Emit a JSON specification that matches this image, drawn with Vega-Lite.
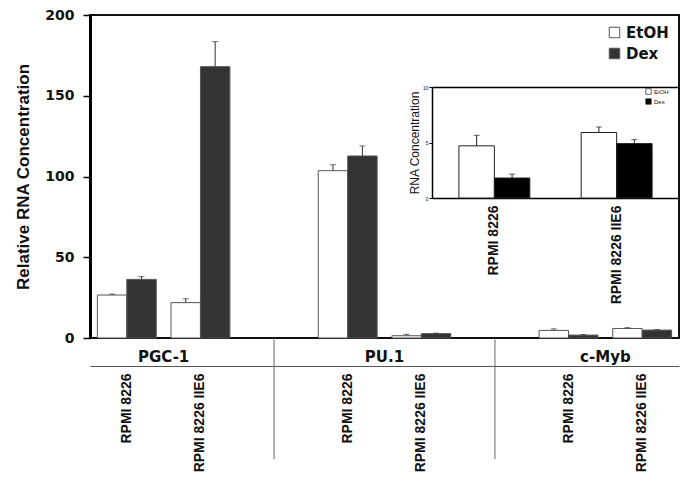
{
  "$schema": "https://vega.github.io/schema/vega-lite/v6.json",
  "width": 589,
  "height": 323,
  "autosize": {"type": "none"},
  "padding": {"left": 90, "top": 15, "right": 6, "bottom": 144},
  "background": "white",
  "config": {
    "font": "Liberation Sans",
    "view": {"stroke": "#111111", "strokeWidth": 2}
  },
  "data": {
    "values": [
      {"gene": "PGC-1", "cell": "RPMI 8226", "pair": "PGC-1|RPMI 8226", "treatment": "EtOH", "value": 26.6, "hi": 27.2},
      {"gene": "PGC-1", "cell": "RPMI 8226", "pair": "PGC-1|RPMI 8226", "treatment": "Dex", "value": 36.3, "hi": 38.0},
      {"gene": "PGC-1", "cell": "RPMI 8226 IIE6", "pair": "PGC-1|RPMI 8226 IIE6", "treatment": "EtOH", "value": 21.9, "hi": 24.3},
      {"gene": "PGC-1", "cell": "RPMI 8226 IIE6", "pair": "PGC-1|RPMI 8226 IIE6", "treatment": "Dex", "value": 168.0, "hi": 183.5},
      {"gene": "PU.1", "cell": "RPMI 8226", "pair": "PU.1|RPMI 8226", "treatment": "EtOH", "value": 103.6, "hi": 107.3},
      {"gene": "PU.1", "cell": "RPMI 8226", "pair": "PU.1|RPMI 8226", "treatment": "Dex", "value": 112.7, "hi": 118.9},
      {"gene": "PU.1", "cell": "RPMI 8226 IIE6", "pair": "PU.1|RPMI 8226 IIE6", "treatment": "EtOH", "value": 1.4, "hi": 2.3},
      {"gene": "PU.1", "cell": "RPMI 8226 IIE6", "pair": "PU.1|RPMI 8226 IIE6", "treatment": "Dex", "value": 2.7, "hi": 3.0},
      {"gene": "c-Myb", "cell": "RPMI 8226", "pair": "c-Myb|RPMI 8226", "treatment": "EtOH", "value": 4.7, "hi": 5.65},
      {"gene": "c-Myb", "cell": "RPMI 8226", "pair": "c-Myb|RPMI 8226", "treatment": "Dex", "value": 1.8, "hi": 2.15},
      {"gene": "c-Myb", "cell": "RPMI 8226 IIE6", "pair": "c-Myb|RPMI 8226 IIE6", "treatment": "EtOH", "value": 5.9, "hi": 6.4},
      {"gene": "c-Myb", "cell": "RPMI 8226 IIE6", "pair": "c-Myb|RPMI 8226 IIE6", "treatment": "Dex", "value": 4.9, "hi": 5.26}
    ]
  },
  "layer": [
    {
      "encoding": {
        "x": {
          "field": "pair", "type": "nominal",
          "scale": {
            "domain": ["PGC-1|RPMI 8226", "PGC-1|RPMI 8226 IIE6", "sep1", "PU.1|RPMI 8226", "PU.1|RPMI 8226 IIE6", "sep2", "c-Myb|RPMI 8226", "c-Myb|RPMI 8226 IIE6"],
            "paddingInner": 0.2, "paddingOuter": 0.1
          },
          "axis": {
            "orient": "bottom", "offset": 28, "title": null,
            "ticks": false, "domainColor": "#555555", "domainWidth": 1,
            "labelAngle": 270, "labelAlign": "right", "labelBaseline": "middle",
            "labelPadding": 7, "labelFont": "Liberation Sans", "labelFontWeight": "bold",
            "labelFontSize": 14, "labelColor": "#111111",
            "labelExpr": "indexof(datum.label, '|') > 0 ? split(datum.label, '|')[1] : ''"
          }
        },
        "y": {
          "type": "quantitative",
          "scale": {"domain": [0, 200], "nice": false},
          "axis": {
            "orient": "left", "values": [0, 50, 100, 150, 200], "grid": false,
            "title": "Relative RNA Concentration", "titleFont": "Liberation Sans",
            "titleFontSize": 17, "titleFontWeight": "bold", "titleColor": "#111111", "titlePadding": 12,
            "domainColor": "#000000", "domainWidth": 3,
            "tickColor": "#000000", "tickWidth": 1.5, "tickSize": 7,
            "labelFont": "DejaVu Sans", "labelFontWeight": "bold", "labelFontSize": 14,
            "labelColor": "#111111", "labelPadding": 9
          }
        }
      },
      "layer": [
        {
          "mark": {"type": "bar", "stroke": "#555555", "strokeWidth": 1},
          "encoding": {
            "xOffset": {"field": "treatment", "type": "nominal", "scale": {"domain": ["EtOH", "Dex"], "paddingInner": 0, "paddingOuter": 0}},
            "y": {"field": "value", "type": "quantitative", "stack": null},
            "fill": {
              "field": "treatment", "type": "nominal",
              "scale": {"domain": ["EtOH", "Dex"], "range": ["#ffffff", "#333333"]},
              "legend": {
                "orient": "top-right", "offset": 10, "title": null,
                "symbolType": "square", "symbolSize": 110, "symbolStrokeColor": "#555555", "symbolStrokeWidth": 1,
                "labelFont": "DejaVu Sans", "labelFontWeight": "bold", "labelFontSize": 15, "labelColor": "#111111",
                "rowPadding": 5, "labelOffset": 4
              }
            }
          }
        },
        {
          "mark": {"type": "rule", "color": "#333333", "strokeWidth": 1},
          "encoding": {
            "xOffset": {"field": "treatment", "type": "nominal"},
            "y": {"field": "value", "type": "quantitative"},
            "y2": {"field": "hi"}
          }
        },
        {
          "mark": {"type": "tick", "orient": "horizontal", "size": 6, "thickness": 1, "color": "#333333"},
          "encoding": {
            "xOffset": {"field": "treatment", "type": "nominal"},
            "y": {"field": "hi", "type": "quantitative"}
          }
        },
        {
          "transform": [{"filter": "datum.cell == 'RPMI 8226 IIE6' && datum.treatment == 'EtOH'"}],
          "mark": {"type": "text", "font": "DejaVu Sans", "fontWeight": "bold", "fontSize": 15, "color": "#111111", "align": "center", "baseline": "middle"},
          "encoding": {
            "x": {"field": "pair", "type": "nominal", "bandPosition": -0.125},
            "y": {"datum": -12},
            "text": {"field": "gene"}
          }
        },
        {
          "transform": [{"filter": "datum.cell == 'RPMI 8226' && datum.treatment == 'EtOH' && datum.gene != 'PGC-1'"}],
          "mark": {"type": "rule", "color": "#666666", "strokeWidth": 1},
          "encoding": {
            "x": {"field": "pair", "type": "nominal", "bandPosition": -0.75},
            "y": {"datum": 0},
            "y2": {"datum": -75}
          }
        }
      ]
    },
    {
      "transform": [{"filter": "datum.gene == 'c-Myb'"}],
      "mark": {"type": "bar", "stroke": "#222222", "strokeWidth": 1},
      "encoding": {
        "x": {
          "field": "cell", "type": "nominal",
          "scale": {"domain": ["RPMI 8226", "RPMI 8226 IIE6"], "range": [342, 589], "paddingInner": 0.42, "paddingOuter": 0.22},
          "axis": {
            "orient": "bottom", "offset": -140, "title": null, "ticks": false,
            "domainColor": "#000000", "domainWidth": 1.5,
            "labelAngle": 270, "labelAlign": "right", "labelBaseline": "middle",
            "labelPadding": 7, "labelFont": "Liberation Sans", "labelFontWeight": "bold",
            "labelFontSize": 14, "labelColor": "#111111"
          }
        },
        "xOffset": {"field": "treatment", "type": "nominal", "scale": {"domain": ["EtOH", "Dex"], "paddingInner": 0, "paddingOuter": 0}},
        "y": {
          "field": "value", "type": "quantitative", "stack": null,
          "scale": {"domain": [0, 10], "nice": false, "range": [183, 72]},
          "axis": {
            "orient": "left", "offset": -342, "values": [0, 5, 10], "grid": false,
            "title": "RNA Concentration", "titleFont": "Liberation Sans", "titleFontSize": 12,
            "titleFontWeight": "normal", "titleColor": "#111111", "titlePadding": 1,
            "domainColor": "#000000", "domainWidth": 1.5, "tickColor": "#000000", "tickSize": 3,
            "labelFontSize": 5, "labelPadding": 1, "labelColor": "#111111"
          }
        },
        "fill": {
          "field": "treatment", "type": "nominal",
          "scale": {"domain": ["EtOH", "Dex"], "range": ["#ffffff", "#000000"]},
          "legend": {
            "orient": "none", "legendX": 555, "legendY": 73, "title": null,
            "symbolType": "square", "symbolSize": 30, "symbolStrokeColor": "#222222", "symbolStrokeWidth": 0.7,
            "labelFontSize": 6, "labelColor": "#111111", "rowPadding": 1, "labelOffset": 2
          }
        }
      }
    },
    {
      "transform": [{"filter": "datum.gene == 'c-Myb'"}],
      "encoding": {
        "x": {
          "field": "cell", "type": "nominal",
          "scale": {"domain": ["RPMI 8226", "RPMI 8226 IIE6"], "range": [342, 589], "paddingInner": 0.42, "paddingOuter": 0.22},
          "axis": {"orient": "top", "offset": -72, "title": null, "ticks": false, "labels": false, "domainColor": "#000000", "domainWidth": 1.5}
        },
        "xOffset": {"field": "treatment", "type": "nominal", "scale": {"domain": ["EtOH", "Dex"], "paddingInner": 0, "paddingOuter": 0}},
        "y": {
          "type": "quantitative",
          "scale": {"domain": [0, 10], "nice": false, "range": [183, 72]},
          "axis": null
        }
      },
      "layer": [
        {
          "mark": {"type": "rule", "color": "#222222", "strokeWidth": 1},
          "encoding": {
            "y": {"field": "value", "type": "quantitative"},
            "y2": {"field": "hi"}
          }
        },
        {
          "mark": {"type": "tick", "orient": "horizontal", "size": 6, "thickness": 1, "color": "#222222"},
          "encoding": {
            "y": {"field": "hi", "type": "quantitative"}
          }
        }
      ]
    }
  ],
  "resolve": {
    "scale": {"x": "independent", "y": "independent", "xOffset": "independent", "fill": "independent"},
    "axis": {"x": "independent", "y": "independent"}
  }
}
